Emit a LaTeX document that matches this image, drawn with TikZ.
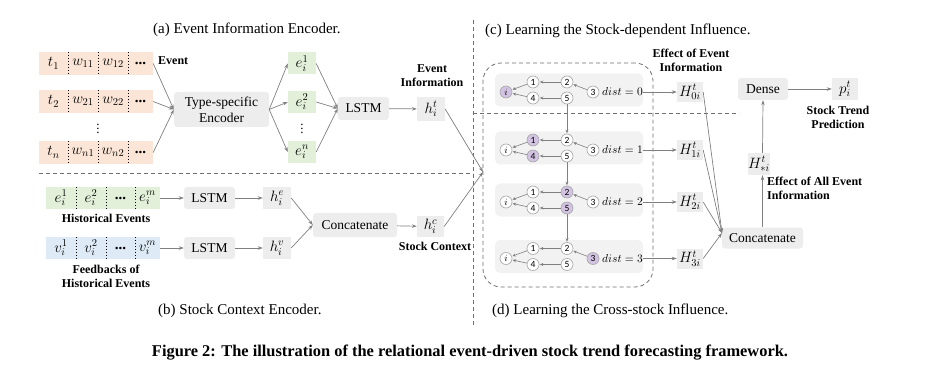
\RequirePackage{fix-cm}
\documentclass[tikz,border=0pt]{standalone}
\usepackage{fontspec}
\setmainfont{Liberation Serif}
\newfontfamily\numfont{Carlito}
\usetikzlibrary{arrows.meta,calc}
\definecolor{corange}{HTML}{FBE5D6}
\definecolor{cgreen}{HTML}{E2F0D9}
\definecolor{cblue}{HTML}{DEEBF7}
\definecolor{boxgray}{HTML}{EDEDED}
\definecolor{pangray}{HTML}{F2F2F2}
\definecolor{cpurple}{HTML}{D3C3E3}
\definecolor{lgray}{HTML}{808080}
\definecolor{dgray}{HTML}{6E6E6E}
\newcommand\mkpanel[8]{%
  \node[panel] (p#1) at (569,#2) {};
  \node[gn,fill=#3] (p#1i) at (506,#2+2) {$i$};
  \node[gn,fill=#4] (p#1n1) at (533,#2-8) {1};
  \node[gn,fill=#5] (p#1n4) at (533,#2+8) {4};
  \node[gn,fill=#6] (p#1n2) at (567,#2-8) {2};
  \node[gn,fill=#7] (p#1n5) at (567,#2+8) {5};
  \node[gn,fill=#8] (p#1n3) at (593,#2+2) {3};
  \node[anchor=west,inner sep=0pt,font=\fontsize{11.5}{12}\selectfont] (p#1d) at (602,#2+2) {$dist=#1$};
  \node[hbox,minimum width=26pt,minimum height=20pt] (H#1) at (690,#2+2) {$H_{#1i}^t$};
  \draw[garr] (p#1n1) -- (p#1i);
  \draw[garr] (p#1n4) -- (p#1i);
  \draw[garr] (p#1n2) -- (p#1n1);
  \draw[garr] (p#1n5) -- (p#1n4);
  \draw[garr] (p#1n3) -- (p#1n2);
  \draw[arr] (p#1d.east) -- (H#1.west);
}
\begin{document}
\begin{tikzpicture}[x=1pt,y=-1pt,
  cell/.style={inner sep=0pt,minimum height=23pt,font=\fontsize{15}{16}\selectfont},
  box/.style={fill=boxgray,rounded corners=3pt,inner sep=0pt,minimum height=23pt,font=\fontsize{13.5}{16}\selectfont,align=center},
  hbox/.style={fill=boxgray,inner sep=0pt,minimum height=22pt,font=\fontsize{15}{16}\selectfont},
  arr/.style={draw=lgray,line width=0.7pt,-{Stealth[length=5pt,width=3.5pt]}},
  garr/.style={draw=lgray,line width=0.6pt,-{Stealth[length=3.5pt,width=3pt]},shorten >=0.5pt},
  lbl/.style={font=\bfseries\fontsize{12}{14}\selectfont,align=center,inner sep=0pt},
  gn/.style={circle,draw=lgray!70,fill=white,minimum size=12pt,inner sep=0pt,font=\numfont\fontsize{9.5}{10}\selectfont,line width=0.6pt},
  panel/.style={fill=pangray,rounded corners=5pt,minimum width=148pt,minimum height=33pt,inner sep=0pt},
  sep/.style={dash pattern=on 1.6pt off 1.4pt,line width=0.7pt,black},
  div/.style={draw=dgray,dash pattern=on 4pt off 3pt,line width=0.8pt},
  ttl/.style={font=\fontsize{15}{16}\selectfont,anchor=west,inner sep=0pt}
]
\useasboundingbox (0,0) rectangle (927,377);

% ---------- dividers ----------
\draw[div] (473,20) -- (473,325);
\draw[div] (39,173) -- (473,173);
\draw[div] (473,113) -- (739,113);
\node[div,draw,rounded corners=18pt,minimum width=170pt,minimum height=224pt,inner sep=0pt] (grp) at (568,175) {};

% ---------- titles ----------
\node[ttl] (ta) at (153,30) {(a) Event Information Encoder.};
\node[ttl] (tc) at (485,31) {(c) Learning the Stock-dependent Influence.};
\node[ttl] (tb) at (158,311) {(b) Stock Context Encoder.};
\node[ttl] (td) at (492,311) {(d) Learning the Cross-stock Influence.};
\node[inner sep=0pt] (cap) at (470,353) {\resizebox{636pt}{!}{\bfseries Figure 2: The illustration of the relational event-driven stock trend forecasting framework.}};

% ---------- (a) event rows ----------
\node[cell,fill=corange,minimum width=29pt] (t1) at (53.5,63.5) {$t_1$};
\node[cell,fill=corange,minimum width=30pt] (w11) at (83,63.5) {$w_{11}$};
\node[cell,fill=corange,minimum width=30pt] (w12) at (113,63.5) {$w_{12}$};
\node[cell,fill=corange,minimum width=25pt] (d1) at (140.5,63.5) {\textbf{...}};
\node[cell,fill=corange,minimum width=29pt] (t2) at (53.5,101.5) {$t_2$};
\node[cell,fill=corange,minimum width=30pt] (w21) at (83,101.5) {$w_{21}$};
\node[cell,fill=corange,minimum width=30pt] (w22) at (113,101.5) {$w_{22}$};
\node[cell,fill=corange,minimum width=25pt] (d2) at (140.5,101.5) {\textbf{...}};
\node[cell,fill=corange,minimum width=29pt] (tn) at (53.5,152.5) {$t_n$};
\node[cell,fill=corange,minimum width=30pt] (wn1) at (83,152.5) {$w_{n1}$};
\node[cell,fill=corange,minimum width=30pt] (wn2) at (113,152.5) {$w_{n2}$};
\node[cell,fill=corange,minimum width=25pt] (dn) at (140.5,152.5) {\textbf{...}};
\foreach \a in {t1,w11,w12,t2,w21,w22,tn,wn1,wn2}
  \draw[sep] (\a.north east) -- (\a.south east);
\node[inner sep=0pt,font=\fontsize{13}{14}\selectfont] (vd1) at (98,126) {$\vdots$};
\node[lbl,anchor=west] (evl) at (158,61) {Event};

\node[box,minimum width=95pt,minimum height=35pt] (enc) at (221.5,109.5) {Type-specific\\Encoder};
\foreach \a in {d1,d2,dn} \draw[arr] (\a.east) -- (enc.west);

\node[cell,fill=cgreen,minimum width=28pt,minimum height=22pt] (e1) at (302,63.5) {$e_i^1$};
\node[cell,fill=cgreen,minimum width=28pt,minimum height=22pt] (e2) at (302,102) {$e_i^2$};
\node[cell,fill=cgreen,minimum width=28pt,minimum height=22pt] (en) at (302,152) {$e_i^n$};
\node[inner sep=0pt,font=\fontsize{13}{14}\selectfont] (vd2) at (302,126) {$\vdots$};
\foreach \a in {e1,e2,en} \draw[arr] (enc.east) -- (\a.west);

\node[box,minimum width=51pt] (lstm) at (363.5,108.5) {LSTM};
\foreach \a in {e1,e2,en} \draw[arr] (\a.east) -- (lstm.west);
\node[hbox,minimum width=28pt,minimum height=24pt] (ht) at (431,109) {$h_i^t$};
\draw[arr] (lstm) -- (ht);
\node[lbl] (eil) at (432,76) {Event\\Information};

% ---------- (b) stock context ----------
\node[cell,fill=cgreen,minimum width=30pt,minimum height=22pt] (he1) at (61,198) {$e_i^1$};
\node[cell,fill=cgreen,minimum width=30pt,minimum height=22pt] (he2) at (91,198) {$e_i^2$};
\node[cell,fill=cgreen,minimum width=29pt,minimum height=22pt] (hed) at (120.5,198) {\textbf{...}};
\node[cell,fill=cgreen,minimum width=25pt,minimum height=22pt] (hem) at (147.5,198) {$e_i^m$};
\node[cell,fill=cblue,minimum width=30pt,minimum height=22pt] (v1) at (61,248) {$v_i^1$};
\node[cell,fill=cblue,minimum width=30pt,minimum height=22pt] (v2) at (91,248) {$v_i^2$};
\node[cell,fill=cblue,minimum width=29pt,minimum height=22pt] (vd) at (120.5,248) {\textbf{...}};
\node[cell,fill=cblue,minimum width=25pt,minimum height=22pt] (vm) at (147.5,248) {$v_i^m$};
\foreach \a in {he1,he2,hed,v1,v2,vd}
  \draw[sep] (\a.north east) -- (\a.south east);
\node[lbl] (hel) at (106,218) {Historical Events};
\node[lbl] (fbl) at (106,276) {Feedbacks of\\Historical Events};

\node[box,minimum width=51pt,minimum height=22pt] (lstme) at (209.5,198) {LSTM};
\node[box,minimum width=51pt,minimum height=22pt] (lstmv) at (209.5,248) {LSTM};
\node[hbox,minimum width=28pt] (he) at (277,198) {$h_i^e$};
\node[hbox,minimum width=28pt] (hv) at (277,248) {$h_i^v$};
\draw[arr] (hem.east) -- (lstme.west);
\draw[arr] (vm.east) -- (lstmv.west);
\draw[arr] (lstme) -- (he);
\draw[arr] (lstmv) -- (hv);

\node[box,minimum width=84pt,minimum height=24pt] (cat1) at (355,225) {Concatenate};
\draw[arr] (he.east) -- (cat1.west);
\draw[arr] (hv.east) -- (cat1.west);
\node[hbox,minimum width=27pt,minimum height=21pt] (hc) at (430.5,226.5) {$h_i^c$};
\draw[arr] (cat1) -- (hc);
\node[lbl] (scl) at (435,246) {Stock Context};

\coordinate (cin) at (483,172);
\draw[arr] (ht.east) -- (cin);
\draw[arr] (hc.east) -- (cin);

% ---------- (c)/(d) panels ----------
\mkpanel{0}{90}{cpurple}{white}{white}{white}{white}{white}
\mkpanel{1}{148}{white}{cpurple}{cpurple}{white}{white}{white}
\mkpanel{2}{200}{white}{white}{white}{cpurple}{cpurple}{white}
\mkpanel{3}{256.5}{white}{white}{white}{white}{white}{cpurple}
\draw[garr] (p0n5) -- (p1n2);
\draw[garr] (p1n5) -- (p2n2);
\draw[garr] (p2n5) -- (p3n2);

\node[lbl] (eeil) at (691,60) {Effect of Event\\Information};

\node[box,minimum width=81pt,minimum height=21pt] (cat2) at (762.5,238) {Concatenate};
\coordinate (cin2) at (722,233);
\foreach \k in {0,1,2,3} \draw[arr] (H\k.east) -- (cin2);

\node[hbox,minimum width=19pt,minimum height=22pt] (Hs) at (759,164) {$H_{*i}^t$};
\node[box,minimum width=50pt,minimum height=22pt] (dense) at (763,89) {Dense};
\node[hbox,minimum width=26pt] (pt) at (845,89) {$p_i^t$};
\draw[arr] (cat2.north) -- (cat2.north |- Hs.south);
\draw[arr] (cat2.north |- Hs.north) -- (dense.south);
\draw[arr] (dense) -- (pt);
\node[lbl] (stp) at (838,117.5) {Stock Trend\\Prediction};
\node[lbl,anchor=north west,align=left] (eal) at (767,177) {Effect of All Event\\Information};
\end{tikzpicture}
\end{document}
